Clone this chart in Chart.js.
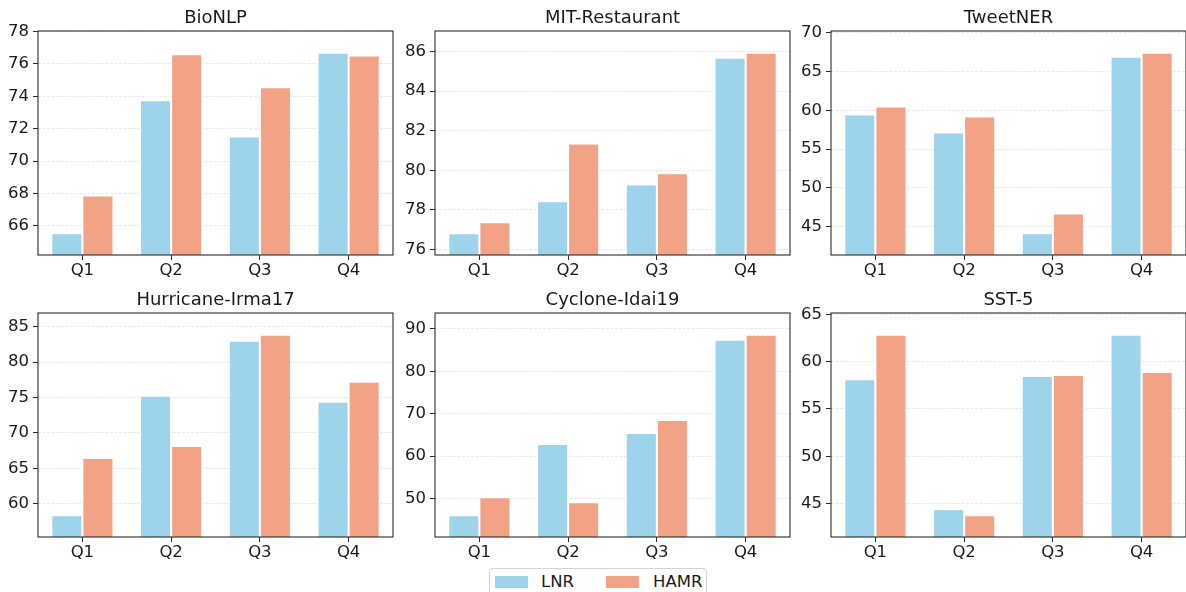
<!DOCTYPE html>
<html lang="en">
<head>
<meta charset="UTF-8">
<title>LNR vs HAMR by quarter</title>
<script src="https://cdn.jsdelivr.net/npm/chart.js"></script>
<style>
    body {
        margin: 0;
        width: 1186px;
        height: 592px;
        overflow: hidden;
        position: relative;
        background: #fff;
        font-family: "DejaVu Sans", sans-serif;
    }
    canvas { position: absolute; }
    .legend {
        position: absolute;
        left: 489px;
        top: 568px;
        width: 218px;
        height: 32px;
        box-sizing: border-box;
        border: 1px solid #d4d4d4;
        border-radius: 4px;
        background: #fff;
    }
    .legend .patch { position: absolute; top: 7px; width: 33px; height: 12px; }
    .legend .label { position: absolute; top: 3px; font-size: 16.5px; line-height: 19px; color: #1a1a1a; }
</style>
</head>
<body>
<div class="legend">
    <span class="patch" style="left:5px;background:#9dd4ec"></span>
    <span class="label" style="left:51px">LNR</span>
    <span class="patch" style="left:116px;background:#f2a386"></span>
    <span class="label" style="left:163px">HAMR</span>
</div>
<script>
    const quarters = ['Q1', 'Q2', 'Q3', 'Q4'];
    const panelTitles = ['BioNLP', 'MIT-Restaurant', 'TweetNER', 'Hurricane-Irma17', 'Cyclone-Idai19', 'SST-5'];
    const lnrScores = [
        [65.54, 73.75, 71.52, 76.69],
        [76.82, 78.44, 79.29, 85.69],
        [59.45, 57.13, 44.14, 66.90],
        [58.34, 75.24, 83.04, 74.39],
        [46.05, 62.85, 65.46, 87.46],
        [58.12, 44.40, 58.47, 62.84]
    ];
    const hamrScores = [
        [67.88, 76.59, 74.55, 76.52],
        [77.38, 81.36, 79.85, 85.94],
        [60.48, 59.19, 46.71, 67.42],
        [66.44, 68.14, 83.89, 77.23],
        [50.30, 49.13, 68.54, 88.64],
        [62.84, 43.76, 58.58, 58.90]
    ];
    const tickSteps = [2, 2, 5, 5, 10, 5];

    const LNR_COLOR = '#9dd4ec';
    const HAMR_COLOR = '#f2a386';
    const TEXT = '#1a1a1a';
    const FONT = 'DejaVu Sans';

    // frame round the plot area (matplotlib style spines) + title centred on the plot area
    const framePlugin = {
        id: 'frame',
        afterDatasetsDraw(chart, args, opts) {
            const { ctx, chartArea: a } = chart;
            ctx.save();
            ctx.strokeStyle = '#2b2b2b';
            ctx.lineWidth = 1.1;
            ctx.strokeRect(a.left, a.top, a.right - a.left, a.bottom - a.top);
            ctx.fillStyle = TEXT;
            ctx.font = '18px "' + FONT + '"';
            ctx.textAlign = 'center';
            ctx.textBaseline = 'middle';
            ctx.fillText(opts.text, (a.left + a.right) / 2, a.top - 13);
            ctx.restore();
        }
    };

    const colLeft = [0, 397, 793];
    const rowTop = [0, 282];

    panelTitles.forEach((title, i) => {
        const canvas = document.createElement('canvas');
        canvas.width = 394;
        canvas.height = 280;
        canvas.style.left = colLeft[i % 3] + 'px';
        canvas.style.top = rowTop[Math.floor(i / 3)] + 'px';
        document.body.appendChild(canvas);

        const all = lnrScores[i].concat(hamrScores[i]);
        const lo = Math.min(...all), hi = Math.max(...all);
        const pad = (hi - lo) * 0.12;

        new Chart(canvas.getContext('2d'), {
            type: 'bar',
            data: {
                labels: quarters,
                datasets: [
                    { label: 'LNR', data: lnrScores[i], backgroundColor: LNR_COLOR, borderColor: '#fff', borderWidth: 1 },
                    { label: 'HAMR', data: hamrScores[i], backgroundColor: HAMR_COLOR, borderColor: '#fff', borderWidth: 1 }
                ]
            },
            options: {
                responsive: false,
                animation: false,
                layout: { padding: { top: 31, right: 1 } },
                datasets: { bar: { categoryPercentage: 0.7, barPercentage: 1.0 } },
                plugins: {
                    legend: { display: false },
                    tooltip: { enabled: false },
                    title: { display: false },
                    frame: { text: title }
                },
                scales: {
                    x: {
                        afterFit: s => { s.height = 25; },
                        border: { display: false },
                        grid: {
                            offset: false,
                            drawOnChartArea: false,
                            drawTicks: true,
                            tickLength: 5,
                            tickColor: '#2b2b2b',
                            tickWidth: 1
                        },
                        ticks: { color: TEXT, padding: 1, font: { family: FONT, size: 16.5 } }
                    },
                    y: {
                        min: lo - pad,
                        max: hi + pad,
                        afterFit: s => { s.width = 38; },
                        border: { display: false, dash: [3, 1.5] },
                        grid: {
                            color: '#e2e2e2',
                            lineWidth: 0.8,
                            tickLength: 5,
                            tickColor: '#2b2b2b',
                            tickWidth: 1,
                            tickBorderDash: []
                        },
                        ticks: {
                            stepSize: tickSteps[i],
                            includeBounds: false,
                            color: TEXT,
                            padding: 4,
                            font: { family: FONT, size: 16.5 }
                        }
                    }
                }
            },
            plugins: [framePlugin]
        });
    });
</script>
</body>
</html>
